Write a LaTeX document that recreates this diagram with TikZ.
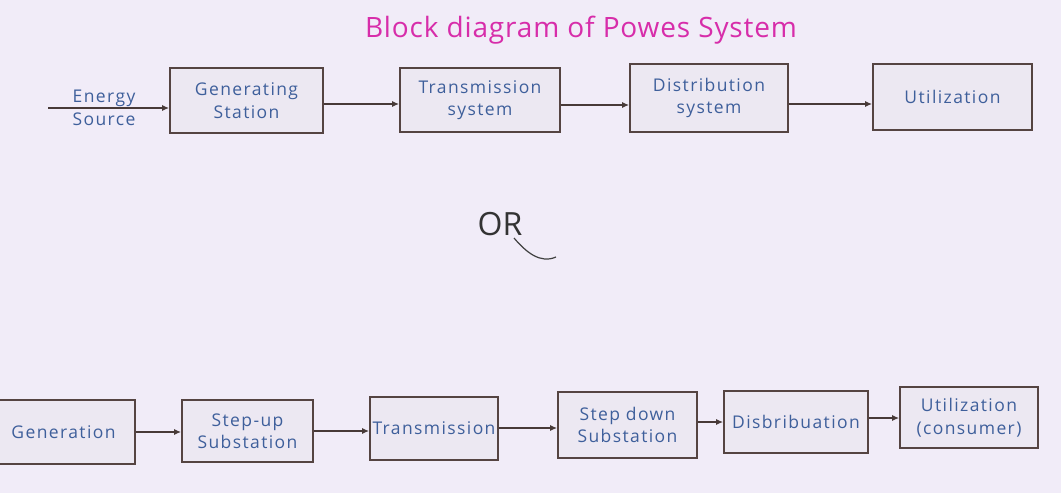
\documentclass[tikz,border=0pt]{standalone}
\usepackage{fontspec}
\setmainfont{Open Sans}
\usetikzlibrary{arrows.meta}
\definecolor{paper}{RGB}{241,236,248}
\definecolor{ink}{RGB}{62,95,155}
\definecolor{frame}{RGB}{85,68,66}
\definecolor{title}{RGB}{215,45,170}
\definecolor{boxfill}{RGB}{236,232,242}
\newcommand{\handfont}[1]{\fontsize{#1}{#1}\selectfont\addfontfeature{LetterSpace=8}}
\begin{document}
\begin{tikzpicture}[x=1pt,y=-1pt,
  blk/.style={draw=frame, line width=1.6pt, fill=boxfill, text=ink, align=center,
    font=\handfont{17.5}, inner sep=0pt},
  lbl/.style={text=ink, align=center, font=\handfont{17.5}},
  conn/.style={draw=frame!85!black, line width=1.6pt, -{Latex[length=7pt,width=6pt]}}]
\fill[paper] (0,0) rectangle (1061,493);
\useasboundingbox (0,0) rectangle (1061,493);
% title
\node[text=title, font=\fontsize{28}{30}\selectfont\addfontfeature{LetterSpace=3}] (ttl) at (581,30) {Block diagram of Powes System};
% top row
\node[lbl] (energy) at (104,108) {Energy\\[6pt]Source};
\coordinate (es) at (48,108);
\node[blk, minimum width=153pt, minimum height=65pt] (gs) at (246.5,100.5) {Generating\\[5pt]Station};
\node[blk, minimum width=160pt, minimum height=64pt] (ts) at (480,100) {Transmission\\[5pt]system};
\node[blk, minimum width=158pt, minimum height=68pt] (ds) at (709,98) {Distribution\\[5pt]system};
\node[blk, minimum width=159pt, minimum height=66pt] (ut) at (952.5,97) {Utilization};
\draw[conn] (es) -- (gs.west |- es);
\draw[conn] (gs.east |- 0,104) -- (ts.west |- 0,104);
\draw[conn] (ts.east |- 0,105) -- (ds.west |- 0,105);
\draw[conn] (ds.east |- 0,104) -- (ut.west |- 0,104);
% OR
\node[font=\fontsize{32}{34}\selectfont, text=black!80] (or) at (500,224) {OR};
\coordinate (rleg) at (514,238);
\coordinate (orend) at (556,257);
\draw[black!75, line width=1.2pt] (rleg) .. controls (526,252) and (540,264) .. (orend);
% bottom row
\node[blk, minimum width=143pt, minimum height=64pt] (gen) at (63.5,432) {Generation};
\node[blk, minimum width=131pt, minimum height=62pt] (su) at (247.5,431) {Step-up\\[5pt]Substation};
\node[blk, minimum width=128pt, minimum height=63pt] (tr) at (434,428.5) {Transmission};
\node[blk, minimum width=139pt, minimum height=66pt] (sd) at (627.5,425) {Step down\\[5pt]Substation};
\node[blk, minimum width=144pt, minimum height=62pt] (db) at (796,422) {Disbribuation};
\node[blk, minimum width=138pt, minimum height=61pt] (uc) at (969,417.5) {Utilization\\[5pt](consumer)};
\draw[conn] (gen.east |- 0,432) -- (su.west |- 0,432);
\draw[conn] (su.east |- 0,431) -- (tr.west |- 0,431);
\draw[conn] (tr.east |- 0,428) -- (sd.west |- 0,428);
\draw[conn] (sd.east |- 0,422) -- (db.west |- 0,422);
\draw[conn] (db.east |- 0,418) -- (uc.west |- 0,418);
\end{tikzpicture}
\end{document}
